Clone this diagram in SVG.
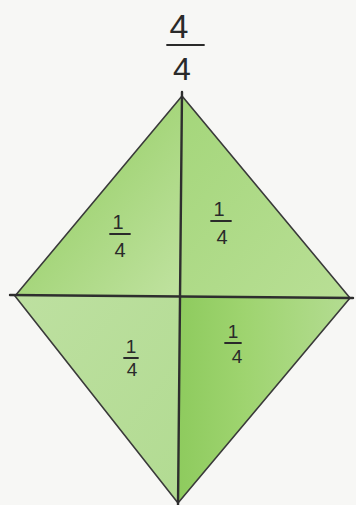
<svg xmlns="http://www.w3.org/2000/svg" width="356" height="505" viewBox="0 0 356 505">
<defs>
<style>
.edge{stroke:#3a3a3a;stroke-width:1.6;fill:none;stroke-linecap:round}
.diag{stroke:#2e2e2e;stroke-width:2.4;fill:none;stroke-linecap:round}
.num{font-family:"Liberation Sans",Arial,sans-serif;fill:#2a2a2a;text-anchor:middle}
.bar{stroke:#2a2a2a;stroke-width:1.8;stroke-linecap:round}
</style>
<linearGradient id="gTL" x1="0" y1="0" x2="1" y2="1">
<stop offset="0" stop-color="#86c957"/><stop offset="0.5" stop-color="#a6d67c"/><stop offset="1" stop-color="#c0e2a0"/>
</linearGradient>
<linearGradient id="gTR" x1="0" y1="0" x2="1" y2="1">
<stop offset="0" stop-color="#a4d67a"/><stop offset="1" stop-color="#b9df96"/>
</linearGradient>
<linearGradient id="gBL" x1="0" y1="0" x2="1" y2="1">
<stop offset="0" stop-color="#bde0a0"/><stop offset="1" stop-color="#b2db92"/>
</linearGradient>
<linearGradient id="gBR" x1="1" y1="0" x2="0" y2="0">
<stop offset="0" stop-color="#b4dc92"/><stop offset="0.6" stop-color="#9fd470"/><stop offset="1" stop-color="#8ecb5e"/>
</linearGradient>
</defs>
<rect width="356" height="505" fill="#f7f7f5"/>
<g id="shape">
<polygon points="182,96 180,296 15,296" fill="url(#gTL)"/>
<polygon points="182,96 350,298 180,296" fill="url(#gTR)"/>
<polygon points="15,296 180,296 178,503" fill="url(#gBL)"/>
<polygon points="180,296 350,298 178,503" fill="url(#gBR)"/>
<polygon points="182,96 15,296 178,503 350,298" class="edge"/>
</g>
<g id="connectors">
<line x1="182" y1="92" x2="178" y2="505" class="diag"/>
<line x1="10" y1="295" x2="353" y2="298" class="diag"/>
</g>
<g id="label-whole">
<text x="179" y="38" class="num" font-size="34">4</text>
<line x1="167" y1="45" x2="204" y2="45" class="bar"/>
<text x="182" y="80" class="num" font-size="32">4</text>
</g>
<g id="label-tl">
<text x="118" y="229" class="num" font-size="20">1</text>
<line x1="110" y1="234" x2="130" y2="234" class="bar"/>
<text x="120" y="257" class="num" font-size="20">4</text>
</g>
<g id="label-tr">
<text x="219" y="216" class="num" font-size="20">1</text>
<line x1="211" y1="221" x2="231" y2="221" class="bar"/>
<text x="222" y="244" class="num" font-size="20">4</text>
</g>
<g id="label-bl">
<text x="131" y="353" class="num" font-size="19">1</text>
<line x1="124" y1="358" x2="138" y2="358" class="bar"/>
<text x="132" y="376" class="num" font-size="19">4</text>
</g>
<g id="label-br">
<text x="233" y="338" class="num" font-size="19">1</text>
<line x1="225" y1="343" x2="241" y2="343" class="bar"/>
<text x="237" y="363" class="num" font-size="19">4</text>
</g>
</svg>
